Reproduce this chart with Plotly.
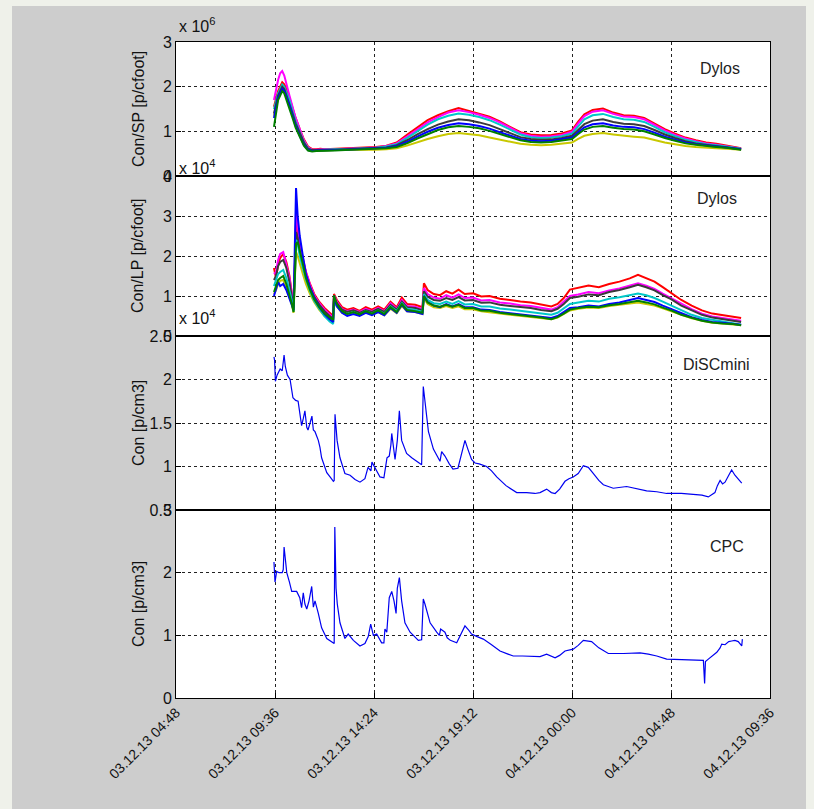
import pandas as pd
import plotly.graph_objects as go
from plotly.subplots import make_subplots

# ---------------- data ----------------
BASE = "2013-12-03 00:00"          # hours below are counted from this instant

# Panel 1: Dylos small particles, Con/SP [p/cfoot] (x 10^6)
t_sp = [9.55, 9.65, 9.75, 9.85, 9.95, 10.05, 10.15, 10.3, 10.45, 10.6,
        10.8, 11.0, 11.2, 11.4, 11.6, 11.8, 12.0, 12.5, 13.0, 13.5,
        14.0, 14.5, 15.0, 15.5, 16.0, 16.5, 17.0, 17.5, 18.0, 18.5,
        19.0, 19.5, 20.0, 20.5, 21.0, 21.5, 22.0, 22.5, 23.0, 23.5,
        24.0, 24.3, 24.6, 25.0, 25.5, 26.0, 26.5, 27.0, 27.5, 28.0,
        28.5, 29.0, 29.5, 30.0, 30.5, 31.0, 31.5, 32.0, 32.2]
sp_red = [1.55, 1.75, 1.9, 2.0, 2.1, 2.05, 1.95, 1.75, 1.5, 1.3,
          1.05, 0.82, 0.66, 0.6, 0.6, 0.61, 0.6, 0.61, 0.62, 0.63,
          0.64, 0.65, 0.68, 0.75, 0.92, 1.08, 1.25, 1.36, 1.45, 1.52,
          1.46, 1.40, 1.33, 1.22, 1.1, 0.98, 0.93, 0.91, 0.92, 0.95,
          1.02, 1.22, 1.38, 1.48, 1.51, 1.42, 1.36, 1.35, 1.3, 1.18,
          1.05, 0.95, 0.86, 0.8, 0.75, 0.72, 0.68, 0.64, 0.62]
sp_magenta = [1.7, 1.95, 2.15, 2.3, 2.35, 2.25, 2.05, 1.8, 1.55, 1.3,
              1.05, 0.8, 0.64, 0.59, 0.59, 0.6, 0.6, 0.6, 0.61, 0.62,
              0.63, 0.64, 0.67, 0.73, 0.88, 1.04, 1.2, 1.32, 1.42, 1.47,
              1.43, 1.37, 1.3, 1.2, 1.08, 0.96, 0.9, 0.88, 0.89, 0.92,
              0.99, 1.18, 1.34, 1.44, 1.47, 1.39, 1.33, 1.32, 1.27, 1.15,
              1.02, 0.92, 0.84, 0.78, 0.73, 0.7, 0.67, 0.63, 0.61]
sp_cyan = [1.5, 1.7, 1.85, 1.95, 2.05, 2.0, 1.88, 1.7, 1.45, 1.22,
           0.98, 0.76, 0.62, 0.58, 0.58, 0.59, 0.59, 0.6, 0.6, 0.61,
           0.62, 0.63, 0.66, 0.71, 0.85, 1.0, 1.15, 1.27, 1.35, 1.4,
           1.37, 1.32, 1.25, 1.15, 1.04, 0.93, 0.87, 0.85, 0.86, 0.89,
           0.95, 1.12, 1.27, 1.36, 1.39, 1.32, 1.27, 1.26, 1.21, 1.1,
           0.98, 0.89, 0.81, 0.76, 0.71, 0.69, 0.66, 0.63, 0.61]
sp_black = [1.4, 1.6, 1.8, 1.9, 2.0, 1.95, 1.82, 1.62, 1.4, 1.18,
            0.95, 0.75, 0.61, 0.58, 0.58, 0.58, 0.59, 0.59, 0.6, 0.61,
            0.62, 0.62, 0.64, 0.69, 0.8, 0.93, 1.05, 1.15, 1.22, 1.27,
            1.25, 1.2, 1.14, 1.05, 0.96, 0.87, 0.83, 0.81, 0.82, 0.85,
            0.9, 1.04, 1.16, 1.24, 1.27, 1.21, 1.17, 1.16, 1.12, 1.03,
            0.93, 0.85, 0.78, 0.73, 0.7, 0.68, 0.65, 0.62, 0.6]
sp_blue = [1.3, 1.55, 1.75, 1.85, 1.95, 1.9, 1.78, 1.58, 1.35, 1.12,
           0.9, 0.7, 0.58, 0.56, 0.57, 0.57, 0.58, 0.58, 0.59, 0.6,
           0.61, 0.61, 0.63, 0.67, 0.76, 0.88, 0.99, 1.08, 1.14, 1.18,
           1.16, 1.12, 1.06, 0.98, 0.9, 0.83, 0.79, 0.78, 0.79, 0.82,
           0.86, 0.98, 1.09, 1.16, 1.18, 1.13, 1.1, 1.09, 1.05, 0.97,
           0.88, 0.81, 0.75, 0.71, 0.68, 0.66, 0.64, 0.61, 0.6]
sp_green = [1.1, 1.45, 1.7, 1.8, 1.9, 1.85, 1.72, 1.52, 1.3, 1.08,
            0.87, 0.68, 0.57, 0.55, 0.56, 0.56, 0.57, 0.57, 0.58, 0.59,
            0.6, 0.6, 0.62, 0.65, 0.73, 0.84, 0.94, 1.03, 1.09, 1.12,
            1.1, 1.07, 1.01, 0.94, 0.86, 0.8, 0.76, 0.75, 0.76, 0.79,
            0.83, 0.94, 1.04, 1.1, 1.12, 1.08, 1.05, 1.04, 1.0, 0.93,
            0.85, 0.79, 0.73, 0.7, 0.67, 0.65, 0.63, 0.61, 0.59]
sp_yellow = [1.35, 1.6, 1.78, 1.88, 1.98, 1.92, 1.8, 1.6, 1.38, 1.15,
             0.92, 0.72, 0.59, 0.56, 0.56, 0.57, 0.57, 0.58, 0.58, 0.59,
             0.59, 0.59, 0.6, 0.62, 0.68, 0.76, 0.83, 0.89, 0.94, 0.96,
             0.94, 0.91, 0.86, 0.81, 0.76, 0.72, 0.7, 0.69, 0.7, 0.72,
             0.75, 0.83, 0.9, 0.94, 0.96, 0.93, 0.9, 0.88, 0.86, 0.8,
             0.75, 0.71, 0.67, 0.65, 0.63, 0.62, 0.61, 0.6, 0.59]

# Panel 2: Dylos large particles, Con/LP [p/cfoot] (x 10^4)
t_lp = [9.55, 9.65, 9.75, 9.85, 10.0, 10.15, 10.3, 10.42, 10.5, 10.56,
        10.62, 10.7, 10.8, 10.95, 11.1, 11.3, 11.5, 11.75, 12.0, 12.25,
        12.42, 12.46, 12.6, 12.85, 13.1, 13.4, 13.7, 14.0, 14.3, 14.6,
        14.9, 15.2, 15.5, 15.75, 16.0, 16.4, 16.75, 16.82, 17.0, 17.3,
        17.6, 17.9, 18.2, 18.5, 18.8, 19.2, 19.6, 20.0, 20.5, 21.0,
        21.5, 22.0, 22.5, 23.0, 23.3, 23.6, 23.9, 24.3, 24.8, 25.3,
        25.8, 26.3, 26.8, 27.2, 27.6, 28.0, 28.4, 28.8, 29.3, 29.8,
        30.3, 30.8, 31.3, 31.8, 32.2]
lp_red = [1.7, 1.45, 1.8, 1.95, 2.05, 1.85, 1.5, 1.1, 0.75, 1.6,
          2.85, 2.6, 2.2, 1.9, 1.6, 1.3, 1.05, 0.85, 0.7, 0.58,
          0.5, 1.05, 0.9, 0.72, 0.66, 0.7, 0.63, 0.72, 0.66, 0.74,
          0.66, 0.86, 0.72, 0.96, 0.8, 0.78, 0.72, 1.32, 1.15, 1.05,
          1.02, 1.12, 1.06, 1.16, 1.05, 1.07, 0.99, 1.0, 0.93, 0.9,
          0.86, 0.84, 0.79, 0.74, 0.8, 0.95, 1.16, 1.2, 1.26, 1.22,
          1.3, 1.36, 1.44, 1.53, 1.45, 1.36, 1.22, 1.08, 0.9, 0.76,
          0.64, 0.56, 0.52, 0.48, 0.45]
lp_magenta = [1.55, 1.6, 1.9, 2.05, 2.1, 1.8, 1.45, 1.05, 0.72, 1.8,
              3.1, 2.8, 2.3, 1.95, 1.6, 1.28, 1.02, 0.82, 0.66, 0.54,
              0.46, 1.02, 0.86, 0.68, 0.62, 0.66, 0.6, 0.68, 0.62, 0.7,
              0.62, 0.82, 0.68, 0.9, 0.75, 0.73, 0.67, 1.2, 1.05, 0.96,
              0.93, 1.02, 0.96, 1.04, 0.95, 0.96, 0.89, 0.9, 0.84, 0.81,
              0.77, 0.75, 0.7, 0.66, 0.72, 0.85, 1.0, 1.04, 1.1, 1.07,
              1.14, 1.19, 1.26, 1.32, 1.26, 1.18, 1.06, 0.95, 0.8, 0.67,
              0.56, 0.49, 0.45, 0.41, 0.38]
lp_black = [1.4, 1.5, 1.75, 1.85, 1.9, 1.7, 1.35, 1.0, 0.7, 1.7,
            2.6, 2.45, 2.1, 1.8, 1.5, 1.22, 0.98, 0.78, 0.62, 0.5,
            0.43, 0.98, 0.82, 0.66, 0.6, 0.64, 0.58, 0.65, 0.6, 0.68,
            0.6, 0.78, 0.66, 0.86, 0.72, 0.7, 0.64, 1.12, 0.98, 0.9,
            0.88, 0.95, 0.9, 0.97, 0.89, 0.9, 0.83, 0.84, 0.78, 0.75,
            0.72, 0.7, 0.65, 0.62, 0.68, 0.8, 0.95, 0.98, 1.04, 1.02,
            1.1, 1.15, 1.22, 1.28, 1.22, 1.14, 1.02, 0.92, 0.76, 0.64,
            0.53, 0.46, 0.42, 0.38, 0.35]
lp_cyan = [1.25, 1.4, 1.55, 1.6, 1.65, 1.45, 1.15, 0.88, 0.62, 1.6,
           2.4, 2.3, 2.0, 1.7, 1.42, 1.12, 0.88, 0.68, 0.5, 0.36,
           0.3, 0.9, 0.74, 0.6, 0.55, 0.6, 0.54, 0.62, 0.56, 0.64,
           0.56, 0.74, 0.62, 0.82, 0.68, 0.65, 0.6, 1.05, 0.9, 0.82,
           0.8, 0.86, 0.8, 0.87, 0.79, 0.8, 0.74, 0.74, 0.69, 0.66,
           0.63, 0.6, 0.56, 0.53, 0.58, 0.68, 0.8, 0.84, 0.88, 0.86,
           0.93, 0.97, 1.02, 1.06, 1.02, 0.95, 0.86, 0.77, 0.64, 0.53,
           0.45, 0.4, 0.36, 0.32, 0.28]
lp_blue = [1.0, 1.2, 1.35, 1.25, 1.3, 1.15, 0.95, 0.8, 0.65, 2.2,
           3.7, 3.0, 2.5, 2.0, 1.55, 1.2, 0.95, 0.72, 0.55, 0.42,
           0.35, 0.95, 0.75, 0.58, 0.5, 0.55, 0.5, 0.58, 0.52, 0.6,
           0.52, 0.7, 0.58, 0.78, 0.62, 0.6, 0.55, 1.0, 0.85, 0.76,
           0.72, 0.8, 0.74, 0.8, 0.72, 0.72, 0.66, 0.65, 0.6, 0.57,
           0.54, 0.52, 0.48, 0.45, 0.5, 0.6, 0.7, 0.72, 0.76, 0.74,
           0.8, 0.84, 0.9, 0.95, 0.9, 0.85, 0.76, 0.68, 0.56, 0.47,
           0.4, 0.35, 0.33, 0.3, 0.28]
lp_green = [1.1, 1.25, 1.4, 1.45, 1.5, 1.3, 1.05, 0.8, 0.6, 1.7,
            2.3, 2.35, 2.1, 1.8, 1.45, 1.15, 0.92, 0.72, 0.56, 0.45,
            0.4, 1.02, 0.8, 0.62, 0.55, 0.6, 0.54, 0.62, 0.56, 0.64,
            0.55, 0.72, 0.6, 0.8, 0.65, 0.62, 0.58, 1.0, 0.84, 0.76,
            0.73, 0.78, 0.73, 0.78, 0.7, 0.7, 0.64, 0.63, 0.58, 0.55,
            0.52, 0.5, 0.46, 0.42, 0.47, 0.56, 0.66, 0.7, 0.73, 0.72,
            0.77, 0.8, 0.85, 0.88, 0.84, 0.79, 0.71, 0.64, 0.53, 0.45,
            0.38, 0.34, 0.31, 0.3, 0.27]
lp_yellow = [1.05, 1.15, 1.3, 1.38, 1.4, 1.2, 0.98, 0.78, 0.58, 1.4,
             2.1, 2.0, 1.8, 1.55, 1.3, 1.05, 0.85, 0.65, 0.5, 0.4,
             0.36, 0.92, 0.74, 0.58, 0.52, 0.57, 0.52, 0.6, 0.54, 0.6,
             0.52, 0.68, 0.57, 0.75, 0.62, 0.6, 0.55, 0.95, 0.8, 0.72,
             0.7, 0.75, 0.7, 0.74, 0.67, 0.67, 0.62, 0.6, 0.56, 0.53,
             0.5, 0.48, 0.45, 0.42, 0.46, 0.55, 0.64, 0.68, 0.71, 0.7,
             0.75, 0.78, 0.82, 0.84, 0.8, 0.76, 0.69, 0.62, 0.52, 0.44,
             0.38, 0.33, 0.31, 0.29, 0.27]

# Panel 3: DiSCmini, Con [p/cm3] (x 10^4) as (hour, value)
discmini = [(9.55, 2.26), (9.58, 2.22), (9.62, 1.98), (9.7, 2.05), (9.85, 2.12),
            (9.95, 2.1), (10.04, 2.28), (10.1, 2.15), (10.2, 2.05), (10.33, 2.0),
            (10.47, 1.79), (10.6, 1.76), (10.72, 1.75), (10.89, 1.47), (10.97, 1.55),
            (11.05, 1.64), (11.14, 1.45), (11.2, 1.42), (11.3, 1.5), (11.39, 1.58),
            (11.46, 1.42), (11.54, 1.4), (11.7, 1.3), (11.78, 1.22), (11.86, 1.1),
            (12.02, 1.0), (12.11, 0.93), (12.27, 0.88), (12.43, 0.83), (12.47, 0.84),
            (12.51, 1.6), (12.56, 1.45), (12.61, 1.3), (12.75, 1.1), (12.99, 0.92),
            (13.24, 0.9), (13.48, 0.85), (13.72, 0.82), (13.96, 0.86), (14.11, 0.99),
            (14.25, 0.95), (14.3, 1.05), (14.45, 0.98), (14.69, 0.88), (14.88, 0.87),
            (15.03, 1.1), (15.14, 1.12), (15.22, 1.25), (15.26, 1.38), (15.42, 1.08),
            (15.53, 1.3), (15.63, 1.64), (15.74, 1.3), (15.98, 1.15), (16.23, 1.1),
            (16.55, 1.05), (16.71, 1.02), (16.79, 1.92), (16.87, 1.75), (17.04, 1.4),
            (17.28, 1.2), (17.52, 1.1), (17.6, 1.06), (17.68, 1.17), (17.84, 1.12),
            (18.05, 1.03), (18.23, 0.97), (18.47, 0.98), (18.65, 1.15), (18.81, 1.30),
            (18.95, 1.2), (19.13, 1.08), (19.3, 1.04), (19.5, 1.03), (19.86, 1.0),
            (20.1, 0.95), (20.35, 0.88), (20.8, 0.78), (21.32, 0.7), (21.8, 0.7),
            (22.2, 0.69), (22.45, 0.7), (22.77, 0.74), (23.0, 0.7), (23.18, 0.69),
            (23.4, 0.74), (23.66, 0.83), (23.85, 0.86), (24.06, 0.88), (24.3, 0.92),
            (24.55, 1.01), (24.79, 0.99), (25.0, 0.93), (25.3, 0.84), (25.52, 0.79),
            (26.0, 0.75), (26.65, 0.77), (27.0, 0.75), (27.62, 0.72), (28.11, 0.71),
            (28.59, 0.69), (29.3, 0.69), (29.87, 0.68), (30.3, 0.67), (30.61, 0.65),
            (30.93, 0.70), (31.05, 0.78), (31.18, 0.84), (31.3, 0.8), (31.42, 0.82),
            (31.6, 0.9), (31.74, 0.96), (31.9, 0.9), (32.06, 0.86), (32.23, 0.81)]

# Panel 4: CPC, Con [p/cm3] (x 10^4) as (hour, value)
cpc = [(9.55, 2.17), (9.6, 1.85), (9.68, 2.02), (9.8, 2.0), (9.95, 2.0),
       (10.0, 2.05), (10.04, 2.41), (10.1, 2.2), (10.17, 2.0), (10.3, 1.85),
       (10.41, 1.70), (10.65, 1.7), (10.8, 1.6), (10.89, 1.44), (10.97, 1.68),
       (11.05, 1.5), (11.14, 1.42), (11.25, 1.55), (11.38, 1.78), (11.46, 1.45),
       (11.54, 1.55), (11.7, 1.35), (11.86, 1.12), (12.11, 0.95), (12.35, 0.9),
       (12.47, 0.87), (12.5, 2.73), (12.56, 1.75), (12.62, 1.5), (12.75, 1.2),
       (12.99, 0.95), (13.15, 1.02), (13.4, 0.92), (13.72, 0.83), (13.96, 0.87),
       (14.12, 0.98), (14.24, 1.18), (14.37, 1.0), (14.53, 1.02), (14.77, 0.88),
       (14.88, 0.88), (14.93, 1.1), (15.02, 1.05), (15.14, 1.6), (15.26, 1.7),
       (15.37, 1.55), (15.47, 1.35), (15.53, 1.75), (15.63, 1.92), (15.74, 1.55),
       (15.9, 1.2), (16.15, 1.05), (16.31, 1.0), (16.55, 0.92), (16.71, 0.93),
       (16.79, 1.58), (16.87, 1.5), (17.12, 1.2), (17.44, 1.05), (17.57, 1.0),
       (17.63, 1.1), (17.84, 1.05), (17.95, 0.96), (18.1, 0.92), (18.41, 0.88),
       (18.6, 1.0), (18.81, 1.15), (19.0, 1.08), (19.13, 1.02), (19.4, 0.98),
       (19.7, 0.94), (20.1, 0.85), (20.51, 0.75), (20.9, 0.7), (21.15, 0.67),
       (21.6, 0.67), (22.0, 0.66), (22.45, 0.66), (22.77, 0.70), (23.0, 0.66),
       (23.18, 0.64), (23.4, 0.68), (23.66, 0.75), (24.06, 0.78), (24.3, 0.84),
       (24.55, 0.92), (24.95, 0.9), (25.3, 0.8), (25.76, 0.71), (26.5, 0.71),
       (27.3, 0.72), (27.7, 0.70), (28.11, 0.67), (28.59, 0.62), (29.5, 0.61),
       (30.37, 0.6), (30.43, 0.23), (30.47, 0.58), (30.61, 0.62), (31.02, 0.73),
       (31.18, 0.8), (31.26, 0.86), (31.42, 0.85), (31.6, 0.9), (31.74, 0.91),
       (31.9, 0.92), (32.06, 0.9), (32.2, 0.84), (32.23, 0.83), (32.26, 0.94)]

panel_labels = ["Dylos", "Dylos", "DiSCmini", "CPC"]
y_titles = ["Con/SP [p/cfoot]", "Con/LP [p/cfoot]", "Con [p/cm3]", "Con [p/cm3]"]
y_ticks = [[0, 1, 2, 3], [0, 1, 2, 3, 4], [0.5, 1, 1.5, 2, 2.5], [0, 1, 2, 3]]
y_ranges = [[0, 3], [0, 4], [0.5, 2.5], [0, 3]]
x_start, x_end = "2013-12-03 04:48", "2013-12-04 09:36"

# ---------------- helpers ----------------
base = pd.Timestamp(BASE)


def to_time(hours):
    return [base + pd.Timedelta(hours=h) for h in hours]


FONT = "Liberation Sans, Arial, sans-serif"
C = dict(red="#ff0000", magenta="#ff00ff", cyan="#00c8c8", black="#3a3a3a",
         blue="#0000ff", green="#008000", yellow="#c8c800")

sp_series = [("yellow", sp_yellow), ("red", sp_red), ("magenta", sp_magenta),
             ("cyan", sp_cyan), ("black", sp_black), ("blue", sp_blue),
             ("green", sp_green)]
lp_series = [("yellow", lp_yellow), ("red", lp_red), ("magenta", lp_magenta),
             ("black", lp_black), ("cyan", lp_cyan), ("blue", lp_blue),
             ("green", lp_green)]

row_px = [134, 160, 174, 188]
fig = make_subplots(rows=4, cols=1, shared_xaxes=True, vertical_spacing=0,
                    row_heights=row_px)

for name, vals in sp_series:
    fig.add_trace(go.Scatter(x=to_time(t_sp), y=vals, mode="lines",
                             line=dict(color=C[name], width=2),
                             showlegend=False), row=1, col=1)
for name, vals in lp_series:
    fig.add_trace(go.Scatter(x=to_time(t_lp), y=vals, mode="lines",
                             line=dict(color=C[name], width=2),
                             showlegend=False), row=2, col=1)
fig.add_trace(go.Scatter(x=to_time([p[0] for p in discmini]), y=[p[1] for p in discmini],
                         mode="lines", line=dict(color="#0000f0", width=1.2),
                         showlegend=False), row=3, col=1)
fig.add_trace(go.Scatter(x=to_time([p[0] for p in cpc]), y=[p[1] for p in cpc],
                         mode="lines", line=dict(color="#0000f0", width=1.2),
                         showlegend=False), row=4, col=1)

axis_common = dict(showline=True, mirror=True, linecolor="black", linewidth=1,
                   ticks="inside", ticklen=5, tickcolor="black",
                   showgrid=True, gridcolor="#222222", gridwidth=1, griddash="dot",
                   zeroline=False)

for r in range(1, 5):
    fig.update_xaxes(type="date", range=[x_start, x_end],
                     tick0=x_start, dtick=4.8 * 3600 * 1000,
                     tickformat="%d.%m.%y %H:%M", tickangle=-45,
                     tickfont=dict(family=FONT, size=14, color="#111"),
                     showticklabels=(r == 4), row=r, col=1, **axis_common)
    fig.update_yaxes(range=y_ranges[r - 1], tickvals=y_ticks[r - 1],
                     tickfont=dict(family=FONT, size=16, color="#111"),
                     row=r, col=1, **axis_common)

# geometry in paper units (plot area 176..770 x, 42..698 y)
L, R, T, B, W, H = 176, 44, 42, 111, 814, 809
PW, PH = W - L - R, H - T - B


def px(x):
    return (x - L) / PW


def py(y):
    return (T + PH - y) / PH


shapes = []
light = "#eff1ea"
for x0, x1, y0, y1 in [(0, 12, 0, H), (0, W, 0, 6), (806, W, 0, H)]:
    shapes.append(dict(type="rect", xref="paper", yref="paper",
                       x0=px(x0), x1=px(x1), y0=py(y1), y1=py(y0),
                       fillcolor=light, line=dict(width=0), layer="below"))

annotations = []
bounds = [(42, 176), (176, 336), (336, 510), (510, 698)]
label_pos = [(720, 68.5), (717, 198.5), (716, 364), (727, 546)]
for i in range(4):
    top, bot = bounds[i]
    annotations.append(dict(xref="paper", yref="paper", x=px(138), y=py((top + bot) / 2),
                            text=y_titles[i], textangle=-90, showarrow=False,
                            xanchor="center", yanchor="middle",
                            font=dict(family=FONT, size=16, color="#111")))
    lx, ly = label_pos[i]
    annotations.append(dict(xref="paper", yref="paper", x=px(lx), y=py(ly),
                            text=panel_labels[i], showarrow=False,
                            xanchor="center", yanchor="middle",
                            font=dict(family=FONT, size=16, color="#222")))

for ytxt, exp in [(37, 6), (179, 4), (329, 4)]:
    annotations.append(dict(xref="paper", yref="paper", x=px(177), y=py(ytxt),
                            text="x 10<sup>%d</sup>" % exp, showarrow=False,
                            xanchor="left", yanchor="bottom",
                            font=dict(family=FONT, size=16, color="#111")))

fig.update_layout(width=W, height=H, margin=dict(l=L, r=R, t=T, b=B, autoexpand=False),
                  paper_bgcolor="#cdcdcd", plot_bgcolor="white",
                  shapes=shapes, annotations=annotations, showlegend=False)

fig.write_html("out.html", config={"displayModeBar": False},
               post_script="document.body.style.margin='0';"
                           "document.body.style.overflow='hidden';")
